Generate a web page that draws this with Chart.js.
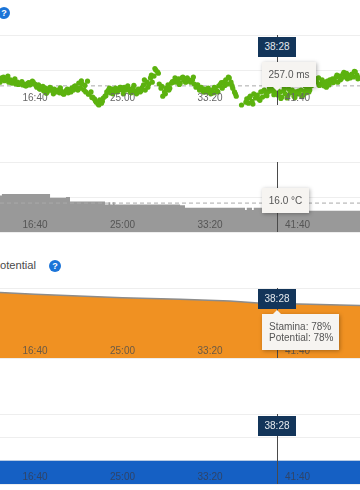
<!DOCTYPE html>
<html>
<head>
<meta charset="utf-8">
<script src="https://cdn.jsdelivr.net/npm/chart.js@4"></script>
<style>
    html, body { margin: 0; padding: 0; background: #fff; }
    body { position: relative; width: 360px; height: 490px; overflow: hidden; font-family: "Liberation Sans", Arial, sans-serif; font-size: 10px; }
    canvas { position: absolute; left: -4px; }
    .title { position: absolute; right: 324px; top: 258px; font-size: 11.2px; line-height: 14px; color: #4a4a4a; white-space: nowrap; }
    .help { position: absolute; width: 12px; height: 12px; border-radius: 50%; background: #1b74d8; color: #fff; font-size: 9px; font-weight: bold; line-height: 12px; text-align: center; }
    .time { position: absolute; left: 258px; width: 38px; height: 20px; line-height: 20px; background: #13355a; color: #e4e9ee; text-align: center; }
    .tip { position: absolute; left: 262px; background: #f6f4f1; color: #555; box-shadow: 1px 1px 4px rgba(0, 0, 0, 0.3); white-space: nowrap; }
    .tip::after { content: ""; position: absolute; left: 11px; border-left: 4px solid transparent; border-right: 4px solid transparent; }
    .down::after { top: 100%; border-top: 4px solid #f6f4f1; }
    .up::after { bottom: 100%; border-bottom: 4px solid #f6f4f1; }
</style>
</head>
<body>
<canvas id="gctChart" width="368" height="78" style="top:31px"></canvas>
<canvas id="tempChart" width="368" height="78" style="top:158px"></canvas>
<canvas id="staminaChart" width="368" height="78" style="top:284px"></canvas>
<canvas id="swimChart" width="368" height="78" style="top:410px"></canvas>

<div class="help" style="left:-2px;top:7px">?</div>
<div class="title">Stamina &amp; Potential</div>
<div class="help" style="left:49px;top:260px">?</div>

<div class="time" style="top:37px">38:28</div>
<div class="tip down" style="top:62px;width:54px;height:25px;line-height:25px;text-align:center">257.0 ms</div>
<div class="tip" style="top:188px;width:47px;height:25px;line-height:25px;text-align:center">16.0 °C</div>
<div class="time" style="top:289px">38:28</div>
<div class="tip up" style="top:314px;width:70px;height:36px;padding-left:7px;line-height:11px"><div style="padding-top:7px">Stamina: 78%<br>Potential: 78%</div></div>
<div class="time" style="top:416px">38:28</div>

<script>
// x axis, seconds
const xMin = 800;
const xMax = 2857;
const xTicks = [1000, 1500, 2000, 2500];
const xTickLabels = ["16:40", "25:00", "33:20", "41:40"];
const crossTime = 2380;

// ground contact time, one sample every 10 s
const gctStart = 800;
const gctStep = 10;
const gctValues = [
    251, 242, 240, 246, 242, 251, 246, 253, 249, 255, 251,
    255, 253, 257, 255, 259, 253, 257, 255, 251, 255,
    262, 257, 266, 262, 270, 264, 272, 268, 264, 270,
    266, 272, 268, 274, 270, 276, 272, 268, 274, 268,
    264, 268, 259, 264, 253, 264, 255, 268, 272, 249,
    276, 272, 283, 287, 294, 298, 289, 296, 285, 281,
    272, 268, 274, 266, 270, 264, 272, 268, 262, 268,
    262, 268, 259, 266, 274, 264, 270, 276, 266, 272,
    264, 257, 268, 251, 255, 242, 251, 238, 225, 229,
    255, 264, 281, 272, 264, 257, 264, 253, 251, 242,
    251, 244, 253, 242, 246, 251, 242, 246, 251, 246,
    255, 262, 257, 268, 262, 270, 266, 272, 264, 274,
    268, 274, 264, 270, 259, 255, 264, 251, 246, 255,
    242, 251, 264, 272, 281, null, null, 300, null, null,
    287, 296, 281, 292, 276, 285, 279, 287, 272, 283,
    268, 276, 272, 264, 270, 266, 274, 268, 279, 272,
    283, 270, 276, 285, 266, 274, 268, 281, 272, 276,
    276, 268, 279, 270, 274, 264, 268, 259, 255, 246,
    251, 242, 255, 246, 259, 253, 249, 257, 251, 244,
    246, 240, 251, 238, 244, 234, 240, 232, 238, 242, 234, 240, 229, 236, 242
];
// the scatter around it, one sample every 20 s
const gctExtraStart = 805;
const gctExtraStep = 20;
const gctExtraValues = [
    245, 248, 238, 252, 244, 256, 250, 259, 252, 249,
    258, 265, 260, 275, 262, 276, 270, 263, 277, 266,
    272, 260, 268, 248, 258, 277, 284, 291, 300, 292,
    280, 264, 276, 270, 262, 276, 266, 272, 258, 272,
    270, 246, 262, 236, 222, 232, 260, 276, 268, 250,
    246, 256, 240, 250, 248, 240, 258, 266, 272, 266,
    276, 262, 272, 252, 258, 240, 258, 276, null, null,
    294, 284, 298, 280, 290, 270, 280, 262, 278, 268,
    286, 264, 280, 272, 284, 270, 282, 260, 272, 256,
    244, 258, 250, 262, 246, 252, 236, 246, 230, 244,
    236, 228, 244
];
const gctAverage = 259;

// temperature, change points of the stepped area
const tempTimes = [800, 811, 1086, 1177, 1200, 1400, 1420, 1430, 1445, 1455, 1829, 1857, 2200, 2210, 2240, 2250, 2457, 2857];
const tempValues = [24, 25, 22.5, 23, 20, 18, 19.5, 18, 19.5, 18, 17.5, 16, 14.5, 16, 14.5, 16, 14, 14];
const tempAverage = 19;

// stamina and potential
const staminaTimes = [800, 1000, 1500, 1829, 2114, 2274, 2380, 2571, 2857];
const staminaValues = [93.7, 90.9, 85.9, 83.8, 81.6, 78.7, 78, 76.8, 75];
const potentialValues = [93.7, 90.9, 85.9, 83.8, 81.6, 78.7, 78, 76.8, 75];

// bottom chart, flat value
const swimTimes = [800, 2857];
const swimValues = [1, 1];

const gridColor = "#eeeeee";

// Draws the vertical line at the selected time
const crosshair = {
    id: "crosshair",
    afterDatasetsDraw(chart) {
        const x = Math.round(chart.scales.x.getPixelForValue(crossTime)) + 0.5;
        const ctx = chart.ctx;
        ctx.save();
        ctx.strokeStyle = "#4a4a4a";
        ctx.lineWidth = 1;
        ctx.beginPath();
        ctx.moveTo(x, chart.chartArea.top);
        ctx.lineTo(x, chart.chartArea.bottom);
        ctx.stroke();
        ctx.restore();
    }
};

const createChart = (id, datasets, yOptions, tickColor) => {
    return new Chart(document.getElementById(id).getContext("2d"), {
        type: "line",
        data: { datasets: datasets },
        plugins: [crosshair],
        options: {
            responsive: false,
            animation: false,
            parsing: false,
            normalized: true,
            layout: { padding: 4 },
            plugins: { legend: { display: false }, tooltip: { enabled: false } },
            scales: {
                x: {
                    type: "linear",
                    min: xMin,
                    max: xMax,
                    afterBuildTicks: (scale) => { scale.ticks = xTicks.map((v) => ({ value: v })); },
                    afterFit: (scale) => { scale.height = 0; },
                    grid: { display: false },
                    border: { display: false },
                    ticks: {
                        z: 1,
                        // mirror keeps the labels inside the plot, above the axis
                        mirror: true,
                        padding: 1,
                        maxRotation: 0,
                        color: tickColor,
                        font: { family: "'Liberation Sans'", size: 10 },
                        callback: (value) => xTickLabels[xTicks.indexOf(value)]
                    }
                },
                y: Object.assign({
                    afterFit: (scale) => { scale.width = 0; },
                    grid: { color: gridColor, drawTicks: false },
                    border: { display: false },
                    ticks: { display: false }
                }, yOptions)
            }
        }
    });
};

const toPoints = (times, values) => times.map((t, i) => ({ x: t, y: values[i] }));

const averageLine = (value) => ({
    data: toPoints([xMin, xMax], [value, value]),
    borderColor: "#aaaaaa",
    borderWidth: 1,
    borderDash: [4, 3],
    pointRadius: 0
});

const gctDots = (start, step, values) => ({
    data: values.map((v, i) => ({ x: start + i * step, y: v })),
    showLine: false,
    clip: 4,
    pointRadius: 2.6,
    pointHoverRadius: 2.6,
    pointBorderWidth: 0,
    pointBackgroundColor: "#5cb20f"
});

createChart("gctChart", [
    gctDots(gctStart, gctStep, gctValues),
    gctDots(gctExtraStart, gctExtraStep, gctExtraValues),
    averageLine(gctAverage)
], { reverse: true, min: 150, max: 300, ticks: { display: false, stepSize: 75 } }, "#666666");

createChart("tempChart", [
    averageLine(tempAverage),
    {
        data: toPoints(tempTimes, tempValues),
        stepped: true,
        fill: "origin",
        backgroundColor: "#999999",
        borderWidth: 0,
        pointRadius: 0
    }
], { min: 0, max: 46, ticks: { display: false, stepSize: 23 } }, "#555555");

createChart("staminaChart", [
    {
        data: toPoints(staminaTimes, potentialValues),
        borderColor: "#8c8c8c",
        borderWidth: 1.5,
        pointRadius: 0
    },
    {
        data: toPoints(staminaTimes, staminaValues),
        fill: "origin",
        backgroundColor: "#f09122",
        borderWidth: 0,
        pointRadius: 0
    }
], { min: 0, max: 100, ticks: { display: false, stepSize: 50 } }, "#6b5a45");

createChart("swimChart", [
    {
        data: toPoints(swimTimes, swimValues),
        fill: "origin",
        backgroundColor: "#1560c4",
        borderWidth: 0,
        pointRadius: 0
    }
], { min: 0, max: 3, ticks: { display: false, stepSize: 1 } }, "#2f4468");
</script>
</body>
</html>
